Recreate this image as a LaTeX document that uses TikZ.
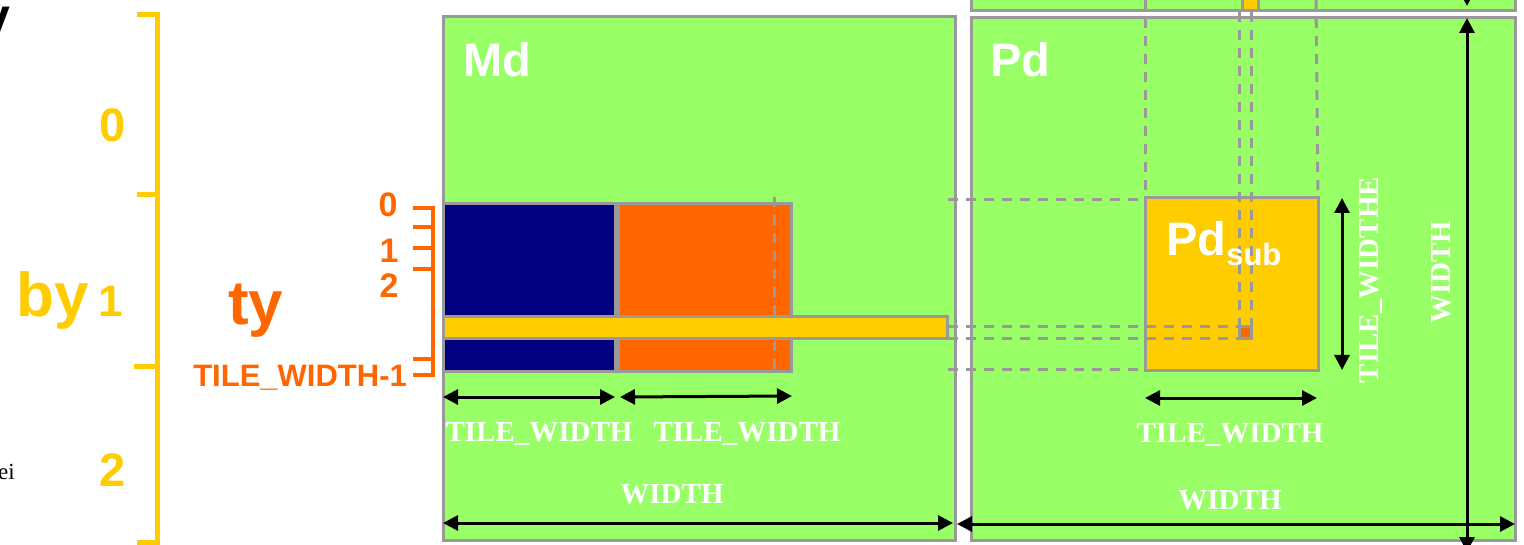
\documentclass[tikz,border=0pt]{standalone}
\usepackage{fontspec}
\setmainfont{Liberation Serif}
\newfontfamily\arialf{Liberation Sans}
\usetikzlibrary{arrows.meta}
\definecolor{lgreen}{HTML}{99FF66}
\definecolor{bgray}{HTML}{999999}
\definecolor{navyb}{HTML}{000080}
\definecolor{orng}{HTML}{FF6600}
\definecolor{ylw}{HTML}{FFCC00}
\newcommand\fsz[1]{\fontsize{#1}{#1}\selectfont}
\begin{document}
\begin{tikzpicture}[x=1pt,y=-1pt,
  box/.style={draw=bgray, line width=3pt, inner sep=0pt, outer sep=0pt, anchor=north west},
  dim/.style={line width=3pt, {Triangle[length=15pt,width=15pt]}-{Triangle[length=15pt,width=15pt]}},
  sdim/.style={line width=3pt, -{Triangle[length=15pt,width=15pt]}},
  guide/.style={draw=bgray, line width=3pt, dash pattern=on 10pt off 8pt},
  ybr/.style={draw=ylw, line width=5pt, line join=miter},
  obr/.style={draw=orng, line width=4pt, line join=miter},
  wlab/.style={text=white, font=\bfseries\fsz{29}, inner sep=0pt, anchor=base},
  slab/.style={text=white, font=\arialf\bfseries\fsz{47}, inner sep=0pt, anchor=base west},
  ylab/.style={text=ylw, font=\arialf\bfseries\fsz{47}, inner sep=0pt},
  olab/.style={text=orng, font=\arialf\bfseries\fsz{34}, inner sep=0pt}
]
\useasboundingbox (0,0) rectangle (1524,545);
\fill[white] (0,0) rectangle (1524,545);

% matrices
\node[box, fill=lgreen, minimum width=512pt, minimum height=523pt] (Md) at (443,17) {};
\node[box, fill=lgreen, minimum width=544pt, minimum height=522pt] (Pd) at (971,18) {};
\node[box, fill=lgreen, minimum width=544pt, minimum height=45pt] (Nd) at (971,-34) {};
\node[box, fill=ylw, minimum width=16pt, minimum height=25pt] (Nbar) at (1242,-14) {};

% tiles in Md
\node[box, fill=navyb, minimum width=172pt, minimum height=168pt] (Mblue) at (443,204) {};
\node[box, fill=orng, minimum width=173pt, minimum height=168pt] (Morange) at (618,204) {};
\coordinate (mv1) at (774,197);
\coordinate (mv2) at (774,372);
\draw[guide] (mv1) -- (mv2);
\node[box, fill=ylw, minimum width=504pt, minimum height=22pt] (Mstrip) at (443,317) {};

% Pd sub tile
\node[box, fill=ylw, minimum width=173pt, minimum height=173pt] (Pdsub) at (1145,198) {};
\node[box, fill=orng, minimum width=12pt, minimum height=12pt] (elem) at (1239,327) {};

% guide lines
\coordinate (gA) at (1145,0);
\coordinate (gB) at (1316,0);
\coordinate (gC) at (1239,12);
\coordinate (gD) at (1251,12);
\draw[guide] (gA) -- (Pdsub.north west);
\draw[guide] (gB) -- (Pdsub.north east);
\draw[guide] (gC) -- (elem.north west);
\draw[guide] (gD) -- (elem.north east);
\coordinate (hA) at (948,200);
\coordinate (hB) at (948,370);
\coordinate (hC) at (948,327);
\coordinate (hD) at (948,339);
\draw[guide] (hA) -- (Pdsub.north west |- hA);
\draw[guide] (hB) -- (Pdsub.south west |- hB);
\draw[guide] (hC) -- (elem.north west);
\draw[guide] (hD) -- (elem.south west);

% dimension arrows
\coordinate (m1a) at (443,397); \coordinate (m1b) at (615,397);
\coordinate (m2a) at (620,397); \coordinate (m2b) at (792,396);
\coordinate (mwa) at (443,523); \coordinate (mwb) at (953,523);
\coordinate (pta) at (1145,398); \coordinate (ptb) at (1317,398);
\coordinate (pwa) at (957,524); \coordinate (pwb) at (1515,524);
\coordinate (pva) at (1342,198); \coordinate (pvb) at (1342,370);
\coordinate (pha) at (1467,18); \coordinate (phb) at (1467,552);
\coordinate (nha) at (1467,-30); \coordinate (nhb) at (1467,6);
\draw[dim] (m1a) -- (m1b);
\draw[dim] (m2a) -- (m2b);
\draw[dim] (mwa) -- (mwb);
\draw[dim] (pta) -- (ptb);
\draw[dim] (pwa) -- (pwb);
\draw[dim] (pva) -- (pvb);
\draw[dim] (pha) -- (phb);
\draw[sdim] (nha) -- (nhb);

% brackets
\draw[ybr] (137,15) -- (157,15) -- (157,542) -- (137,542);
\draw[ybr] (137,195) -- (157,195);
\draw[ybr] (134,367) -- (157,367);
\draw[obr] (413,208) -- (433,208) -- (433,375) -- (413,375);
\draw[obr] (413,227) -- (433,227);
\draw[obr] (413,248) -- (433,248);
\draw[obr] (413,269) -- (433,269);
\draw[obr] (413,359) -- (433,359);

% labels
\node[text=black, font=\arialf\bfseries\fsz{50}, inner sep=0pt, anchor=base east] (ytop) at (11,34) {y};
\node[text=black, font=\fsz{23}, inner sep=0pt, anchor=base east] (ei) at (15,479) {ei};
\node[ylab] (y0) at (113,125) {0};
\node[ylab, font=\arialf\bfseries\fsz{44}] (y1) at (111,301) {1};
\node[ylab] (y2) at (113,470) {2};
\node[ylab, font=\arialf\bfseries\fsz{62}, anchor=base west] (by) at (16,317) {by};
\node[olab, font=\arialf\bfseries\fsz{62}, anchor=base west] (ty) at (228,325) {ty};
\node[olab] (o0) at (388,205) {0};
\node[olab] (o1) at (389,251) {1};
\node[olab] (o2) at (389,286) {2};
\node[olab, font=\arialf\bfseries\fsz{31}, anchor=base east] (otw) at (407,387) {TILE\_WIDTH-1};

\node[slab] (mdl) at (463,77) {Md};
\node[slab] (pdl) at (990,77) {Pd};
\node[slab] (pdsl) at (1166,256) {Pd\raisebox{-10pt}{\fsz{31}sub}};

\node[wlab] (t1) at (539,441) {TILE\_WIDTH};
\node[wlab] (t2) at (747,441) {TILE\_WIDTH};
\node[wlab] (w1) at (672,503) {WIDTH};
\node[wlab] (t3) at (1230,442) {TILE\_WIDTH};
\node[wlab] (w2) at (1230,509) {WIDTH};
\node[wlab, rotate=90] (t4) at (1378,280) {TILE\_WIDTHE};
\node[wlab, rotate=90] (w3) at (1450,272) {WIDTH};
\end{tikzpicture}
\end{document}
